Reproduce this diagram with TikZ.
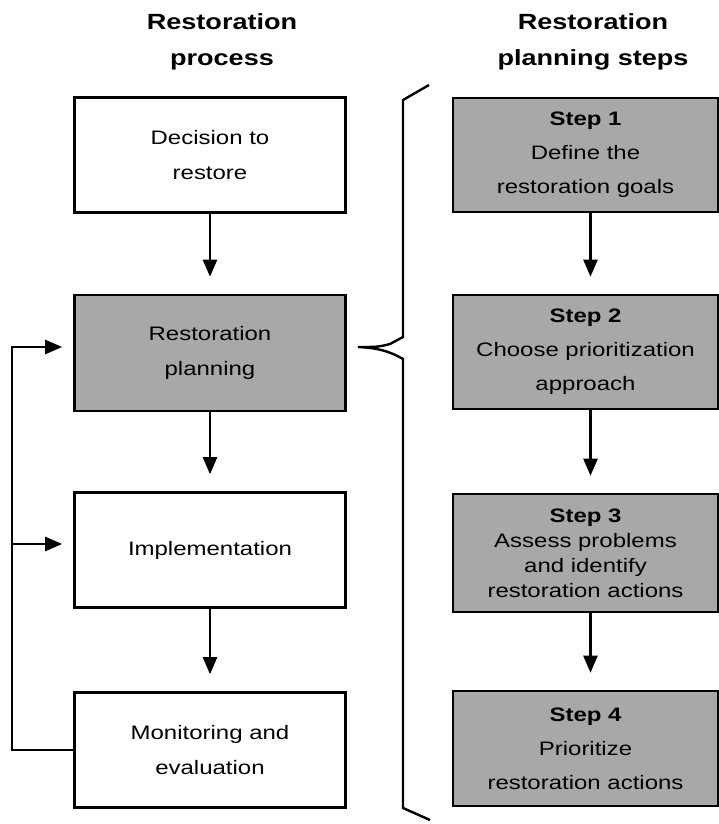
\documentclass[tikz,border=0pt]{standalone}
\usepackage{fontspec}
\setmainfont{Liberation Sans}[FakeStretch=1.23]
\usetikzlibrary{arrows.meta}
\definecolor{boxgray}{RGB}{168,168,168}
\tikzset{
procbox/.style={draw,line width=2.6pt,minimum width=271pt,minimum height=115pt,align=center,font=\fontsize{19.5}{35}\selectfont},
stepbox/.style={procbox,fill=boxgray,minimum width=265pt,font=\fontsize{19.5}{34}\selectfont},
head/.style={align=center,font=\fontsize{22}{36}\selectfont\bfseries},
arr/.style={line width=2.4pt,-{Triangle[length=17pt,width=14pt]},shorten >=17pt},
fbarr/.style={arr,shorten >=11pt}
}
\begin{document}
\begin{tikzpicture}[x=1pt,y=-1pt]
\useasboundingbox(0,0)rectangle(719,824);
\node[head](hproc)at(222,42){Restoration\\process};
\node[head](hsteps)at(593,42){Restoration\\planning steps};
% restoration process
\node[procbox](dec)at(210,155){Decision to\\restore};
\node[procbox,fill=boxgray,minimum height=116pt](plan)at(210,353){Restoration\\planning};
\node[procbox](impl)at(210,550){Implementation};
\node[procbox](mon)at(210,750){Monitoring and\\evaluation};
\draw[arr](dec)--(plan);
\draw[arr](plan)--(impl);
\draw[arr](impl)--(mon);
\coordinate(loop)at(12,0);
\draw[fbarr](mon.west)-|([yshift=6pt]plan.west-|loop)--([yshift=6pt]plan.west);
\draw[fbarr]([yshift=6pt]impl.west-|loop)--([yshift=6pt]impl.west);
% planning steps
\node[stepbox,minimum height=114pt](s1)at(585.5,155){\textbf{Step 1}\\Define the\\restoration goals};
\node[stepbox,minimum height=114pt](s2)at(585.5,352){\textbf{Step 2}\\Choose prioritization\\approach};
\node[stepbox,minimum height=118pt,font=\fontsize{19.5}{25}\selectfont](s3)at(585.5,553){\textbf{Step 3}\\Assess problems\\and identify\\restoration actions};
\node[stepbox](s4)at(585.5,748.5){\textbf{Step 4}\\Prioritize\\restoration actions};
\foreach \a/\b in{s1/s2,s2/s3,s3/s4}
\draw[arr]([xshift=5pt]\a.south)--([xshift=5pt]\b.north);
% brace
\draw[line width=2.4pt,line join=miter](429,85)--(403,100)--(403,337)--(390,344)
..controls(378,347)..(358,347)..controls(378,348)and(389,351)..(403,359)--(403,808)--(430,820);
\end{tikzpicture}
\end{document}
